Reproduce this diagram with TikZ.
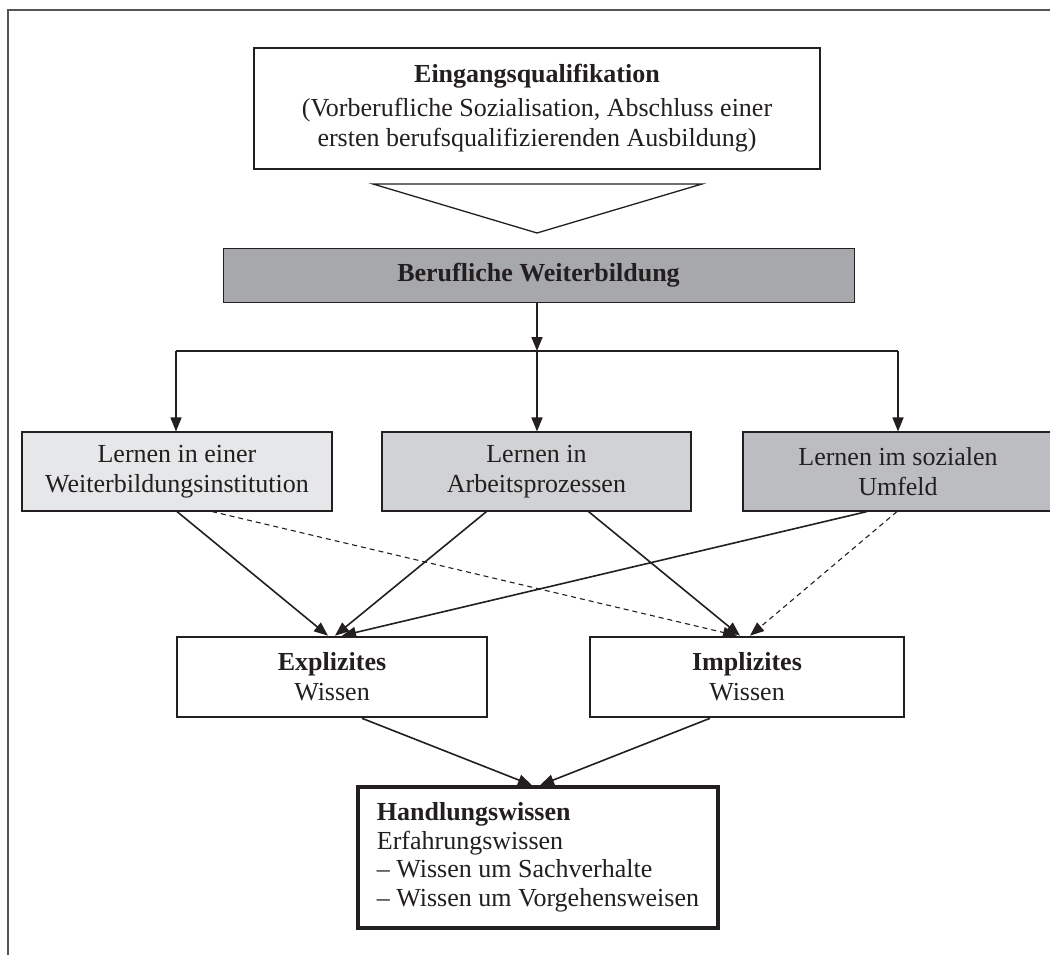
\documentclass[tikz,border=0pt]{standalone}
\usepackage{fontspec}
\setmainfont{Liberation Serif}
\usetikzlibrary{arrows.meta}
\definecolor{ink}{HTML}{231F20}
\definecolor{bwfill}{HTML}{A7A8AB}
\definecolor{lafill}{HTML}{E6E7E8}
\definecolor{lbfill}{HTML}{D1D2D4}
\definecolor{lcfill}{HTML}{BCBDC0}
\definecolor{framec}{HTML}{555555}
\begin{document}
\begin{tikzpicture}[x=1pt,y=-1pt,
  box/.style={draw=ink, text=ink, inner sep=0pt, align=center, font=\fontsize{26}{30}\selectfont},
  learnbox/.style={box, line width=1.1pt, minimum height=79pt, minimum width=310pt},
  wissbox/.style={box, line width=2.6pt, minimum height=80pt},
  arr/.style={draw=ink, line width=1.6pt, -{Triangle[length=14pt,width=11pt]}},
  darr/.style={draw=ink, line width=1.1pt, dash pattern=on 5pt off 4pt, -{Triangle[length=14pt,width=11pt]}},
  plain/.style={draw=ink, line width=1.3pt}]
\useasboundingbox (0,0) rectangle (1050,955);
% frame (partial)
\draw[framec, line width=2pt] (7.5,956) -- (7.5,10) -- (1053,10);

\node[box, line width=2.2pt, minimum width=566pt, minimum height=121pt] (eq) at (537,108.5)
  {\textbf{Eingangsqualifikation}\\[4pt] (Vorberufliche Sozialisation, Abschluss einer\\ ersten berufsqualifizierenden Ausbildung)};

\draw[plain, fill=white] (373,184) -- (702,184) -- (537,233) -- cycle;

\node[box, fill=bwfill, line width=1pt, minimum width=631pt, minimum height=54pt] (bw) at (538.5,275)
  {\textbf{Berufliche Weiterbildung}};

\node[learnbox, fill=lafill] (l1) at (177,471.5) {Lernen in einer\\ Weiterbildungsinstitution};
\node[learnbox, fill=lbfill, minimum width=309pt] (l2) at (536.5,471.5) {Lernen in\\ Arbeitsprozessen};
\node[learnbox, fill=lcfill] (l3) at (898,471.5) {Lernen im sozialen\\ Umfeld};

\node[wissbox, minimum width=310pt] (ex) at (332,677) {\textbf{Explizites}\\ Wissen};
\node[wissbox, minimum width=314pt] (im) at (747,677) {\textbf{Implizites}\\ Wissen};

\node[box, line width=3.5pt, minimum width=360pt, minimum height=141pt, align=left,
  font=\fontsize{26}{28.5}\selectfont] (hw) at (538,857.5)
  {\textbf{Handlungswissen}\\ Erfahrungswissen\\ – Wissen um Sachverhalte\\ – Wissen um Vorgehensweisen};

% distribution
\coordinate (j) at (537,351);
\coordinate (jl) at (176,351);
\coordinate (jr) at (898,351);
\draw[arr] (bw.south -| j) -- (j);
\draw[plain] (jl) -- (jr);
\draw[arr] (jl) -- (jl |- l1.north);
\draw[arr] (j) -- (j |- l2.north);
\draw[arr] (jr) -- (jr |- l3.north);

% learning to knowledge
\draw[arr] (l1.south) -- ([xshift=-4pt]ex.north);
\draw[darr] ([xshift=35pt]l1.south) -- ([xshift=-10pt]im.north);
\draw[arr] ([xshift=-50pt]l2.south) -- ([xshift=3pt]ex.north);
\draw[arr] ([xshift=52pt]l2.south) -- ([xshift=-7pt]im.north);
\draw[arr] ([xshift=-31pt]l3.south) -- ([xshift=10pt]ex.north);
\draw[darr] ([xshift=-1pt]l3.south) -- ([xshift=3pt]im.north);

% knowledge to action
\draw[arr] ([xshift=30pt]ex.south) -- ([xshift=-6pt]hw.north);
\draw[arr] ([xshift=-37pt]im.south) -- ([xshift=2pt]hw.north);
\end{tikzpicture}
\end{document}
